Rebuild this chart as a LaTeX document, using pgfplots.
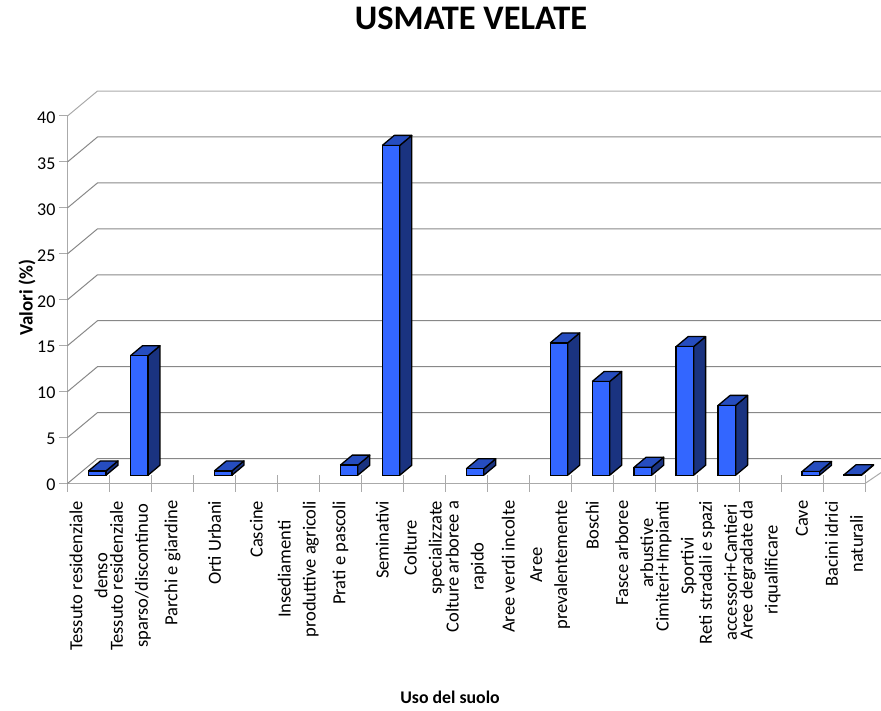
\documentclass[border=0pt]{standalone}
\usepackage{pgfplots}
\pgfplotsset{compat=1.18}
\usepackage{fontspec}
\setmainfont{Carlito}
\definecolor{frontb}{RGB}{51,102,255}
\definecolor{topb}{RGB}{38,77,191}
\definecolor{sideb}{RGB}{26,51,128}
\definecolor{gridc}{RGB}{136,136,136}
\definecolor{axisc}{RGB}{170,170,170}
% depth of the wall, in axis units: 30px, 25px
\newcommand\level[2]{%
  \pgfmathsetmacro\yb{#1+2.72}%
  \addplot[color=#2,line width=1pt,forget plot] coordinates {(0,#1) (0.715,\yb) (19.383,\yb)};}
% side and top faces of a bar at category #1 of value #2
\newcommand\barfaces[2]{%
  \pgfmathsetmacro\xa{#1+0.5+0.417}%
  \pgfmathsetmacro\xb{\xa+0.286}%
  \pgfmathsetmacro\xc{#1+0.5}%
  \pgfmathsetmacro\xd{\xc+0.286}%
  \pgfmathsetmacro\yfb{0.9}%
  \pgfmathsetmacro\yft{0.9+#2}%
  \pgfmathsetmacro\ybb{\yfb+1.09}%
  \pgfmathsetmacro\ybt{\yft+1.09}%
  \addplot[draw=black,fill=sideb,line width=1.3pt,line join=round,forget plot] coordinates {(\xa,\yfb) (\xb,\ybb) (\xb,\ybt) (\xa,\yft) (\xa,\yfb)};
  \addplot[draw=black,fill=topb,line width=1.3pt,line join=round,forget plot] coordinates {(\xc,\yft) (\xa,\yft) (\xb,\ybt) (\xd,\ybt) (\xc,\yft)};}
\begin{document}
\begin{tikzpicture}[x=1pt,y=1pt]
\path[use as bounding box] (0,0) rectangle (881,710);
\begin{axis}[
  at={(67.5pt,226.5pt)},anchor=south west,
  scale only axis,width=797.5pt,height=367.5pt,
  xmin=0,xmax=19,ymin=0,ymax=40,clip=false,
  axis x line*=bottom,axis y line*=left,
  axis line style={draw=axisc,line width=1.2pt,-},
  xtick={0.5,1.5,...,18.5},
  minor xtick={0,1,...,19},
  ytick={0,5,...,40},
  xtick align=center,ytick align=outside,
  major x tick style={draw=none},
  minor x tick style={draw=axisc,line width=1pt},
  major y tick style={draw=axisc,line width=1pt},
  minor tick length=16.6pt,
  major tick length=8.5pt,
  xticklabels={{Tessuto residenziale\\denso},{Tessuto residenziale\\sparso/discontinuo},{Parchi e giardine},{Orti Urbani},{Cascine},{Insediamenti\\produttive agricoli},{Prati e pascoli},{Seminativi},{Colture\\specializzate},{Colture arboree a\\rapido},{Aree verdi incolte},{Aree\\prevalentemente},{Boschi},{Fasce arboree\\arbustive},{Cimiteri+Impianti\\Sportivi},{Reti stradali e spazi\\accessori+Cantieri},{Aree degradate da\\riqualificare},{Cave},{Bacini idrici\\naturali}},
  x tick label style={rotate=90,anchor=east,align=center,font=\fontsize{18.5}{25}\selectfont,yshift=0pt,xshift=-9.5pt},
  y tick label style={font=\fontsize{18}{20}\selectfont,xshift=0pt,yshift=-1.5pt},
  /pgf/number format/assume math mode=true,
  title={USMATE VELATE},
  title style={at={(axis description cs:0.506,1.249)},anchor=center,font=\fontsize{34.4}{38}\selectfont\bfseries},
  xlabel={Uso del suolo},
  xlabel style={at={(axis description cs:0.4796,-0.581)},anchor=center,font=\fontsize{17.8}{20}\selectfont\bfseries},
  ylabel={Valori (\%)},
  ylabel style={at={(axis description cs:-0.0508,0.505)},anchor=center,font=\fontsize{19}{22}\selectfont\bfseries},
]
\level{0}{gridc}
\level{5}{gridc}
\level{10}{gridc}
\level{15}{gridc}
\level{20}{gridc}
\level{25}{gridc}
\level{30}{gridc}
\level{35}{gridc}
\level{40}{axisc}
\addplot[color=axisc,line width=1pt,forget plot] coordinates {(19,0) (19.383,1.19)};
\barfaces{0}{0.47}
\barfaces{1}{13.0}
\barfaces{3}{0.47}
\barfaces{6}{1.1}
\barfaces{7}{35.9}
\barfaces{9}{0.7}
\barfaces{11}{14.4}
\barfaces{12}{10.2}
\barfaces{13}{0.87}
\barfaces{14}{14.0}
\barfaces{15}{7.6}
\barfaces{17}{0.4}
\barfaces{18}{0.05}
\addplot[ybar,bar width=17.5pt,draw=black,fill=frontb,line width=1.3pt,xshift=8.75pt,yshift=8.3pt] coordinates {
(0.5,0.47) (1.5,13.0) (3.5,0.47) (6.5,1.1) (7.5,35.9) (9.5,0.7) (11.5,14.4) (12.5,10.2) (13.5,0.87) (14.5,14.0) (15.5,7.6) (17.5,0.4) (18.5,0.05)};
\end{axis}
\end{tikzpicture}
\end{document}
